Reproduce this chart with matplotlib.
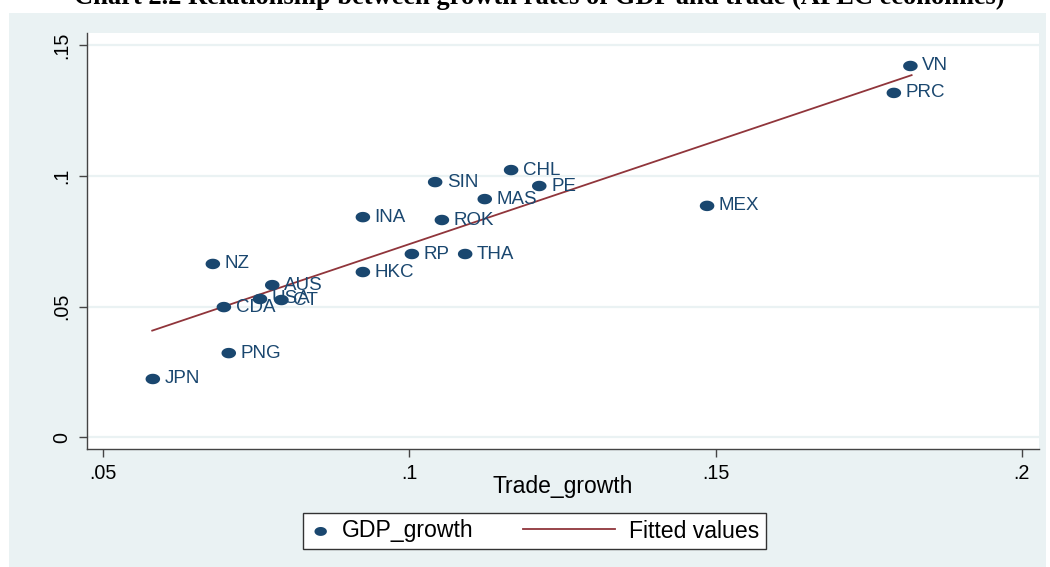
import numpy as np
import matplotlib
matplotlib.use('Agg')
import matplotlib.pyplot as plt
from matplotlib.legend_handler import HandlerLine2D
from matplotlib.lines import Line2D
from matplotlib.path import Path

# data (APEC economies)
economies = ['VN', 'PRC', 'CHL', 'PE', 'SIN', 'MAS', 'MEX', 'INA', 'ROK', 'RP',
             'THA', 'NZ', 'HKC', 'AUS', 'USA', 'CT', 'CDA', 'PNG', 'JPN']
trade_growth = [0.1818, 0.1791, 0.1166, 0.1212, 0.1042, 0.1123, 0.1486, 0.0924, 0.1053, 0.1004,
                0.1091, 0.0679, 0.0924, 0.0776, 0.0756, 0.0791, 0.0697, 0.0705, 0.0581]
gdp_growth = [0.1420, 0.1317, 0.1022, 0.0961, 0.0976, 0.0911, 0.0885, 0.0842, 0.0831, 0.0701,
              0.0701, 0.0663, 0.0632, 0.0582, 0.0529, 0.0525, 0.0498, 0.0322, 0.0223]

# fitted line ends
fit_x = [0.0580, 0.1820]
fit_y = [0.0408, 0.1385]

xticks = [0.05, 0.10, 0.15, 0.20]
xtick_labels = ['.05', '.1', '.15', '.2']
yticks = [0.0, 0.05, 0.10, 0.15]
ytick_labels = ['0', '.05', '.1', '.15']

navy = '#1a476f'
maroon = '#90353b'
bg = '#eaf2f3'

plt.rcParams['font.family'] = ['Liberation Sans', 'DejaVu Sans']

# the source picture is a bit stretched sideways, so dots are flat ellipses
t = np.linspace(0, 2*np.pi, 40)
ellipse = Path(np.column_stack([np.cos(t), 0.72*np.sin(t)]), closed=True)


class LongLine(HandlerLine2D):
    # legend key line longer than the handle box, drawn to the left
    def create_artists(self, legend, orig_handle, xdescent, ydescent, width, height, fontsize, trans):
        y = (height - ydescent) / 2.
        end = width - xdescent - 2.7
        ln = Line2D([end - 66.2, end], [y, y])
        self.update_prop(ln, orig_handle, legend)
        ln.set_transform(trans)
        return [ln]


fig = plt.figure(figsize=(10.5, 5.67), dpi=100)
fig.patch.set_facecolor('white')

# stata style outer panel
panel = plt.Rectangle((9/1050, 0), (1046-9)/1050, 1-13/567,
                      transform=fig.transFigure, facecolor=bg,
                      edgecolor='none', zorder=-5)
fig.add_artist(panel)

fig.text(0.514, 1-4/567, 'Chart 2.2 Relationship between growth rates of GDP and trade (APEC economies)',
         ha='center', va='baseline', fontsize=19.1, fontweight='bold',
         family='Liberation Serif')

ax = fig.add_axes([87.3/1050, 1-449/567, (1039-87.3)/1050, (449-33.3)/567])
ax.set_facecolor('white')

ax.set_xlim(0.0474, 0.2028)
ax.set_ylim(-0.00447, 0.1545)

ax.set_axisbelow(True)
ax.grid(axis='y', color=bg, lw=1.6)
ax.grid(axis='x', visible=False)

pts = ax.scatter(trade_growth, gdp_growth, s=110, color=navy, marker=ellipse, zorder=3,
                 label='GDP_growth', edgecolors='none')
fit, = ax.plot(fit_x, fit_y, color=maroon, lw=1.3, zorder=2, label='Fitted values')

for name, x, y in zip(economies, trade_growth, gdp_growth):
    ax.annotate(name, (x, y), xytext=(8.5, 0), textcoords='offset points',
                va='center', ha='left', fontsize=13.5, color=navy, zorder=4)

ax.set_xticks(xticks)
ax.set_xticklabels(xtick_labels)
ax.set_yticks(yticks)
ax.set_yticklabels(ytick_labels, rotation=90, va='center')

ax.tick_params(axis='both', length=6, width=1, color='#444444', labelsize=14.2)
ax.tick_params(axis='x', pad=4.5)
ax.tick_params(axis='y', pad=5.6)
for s in ['top', 'right']:
    ax.spines[s].set_visible(False)
for s in ['left', 'bottom']:
    ax.spines[s].set_color('#444444')
    ax.spines[s].set_linewidth(1)

ax.set_xlabel('Trade_growth', fontsize=16.5, labelpad=-5.1)

leg = fig.legend([pts, fit], ['GDP_growth', 'Fitted values'], loc='center left',
                 bbox_to_anchor=(302.7/1050, 1-531/567),
                 ncol=2, frameon=True, fancybox=False, edgecolor='#333333',
                 facecolor='white', framealpha=1,
                 fontsize=16.6, handlelength=1.0, columnspacing=5.3, handletextpad=0.43,
                 borderpad=0.28, borderaxespad=0, scatterpoints=1,
                 handler_map={Line2D: LongLine()})
leg.get_frame().set_linewidth(1)
leg.legend_handles[0].set_sizes([80])

fig.savefig('out.png', dpi=100, facecolor=fig.get_facecolor())
